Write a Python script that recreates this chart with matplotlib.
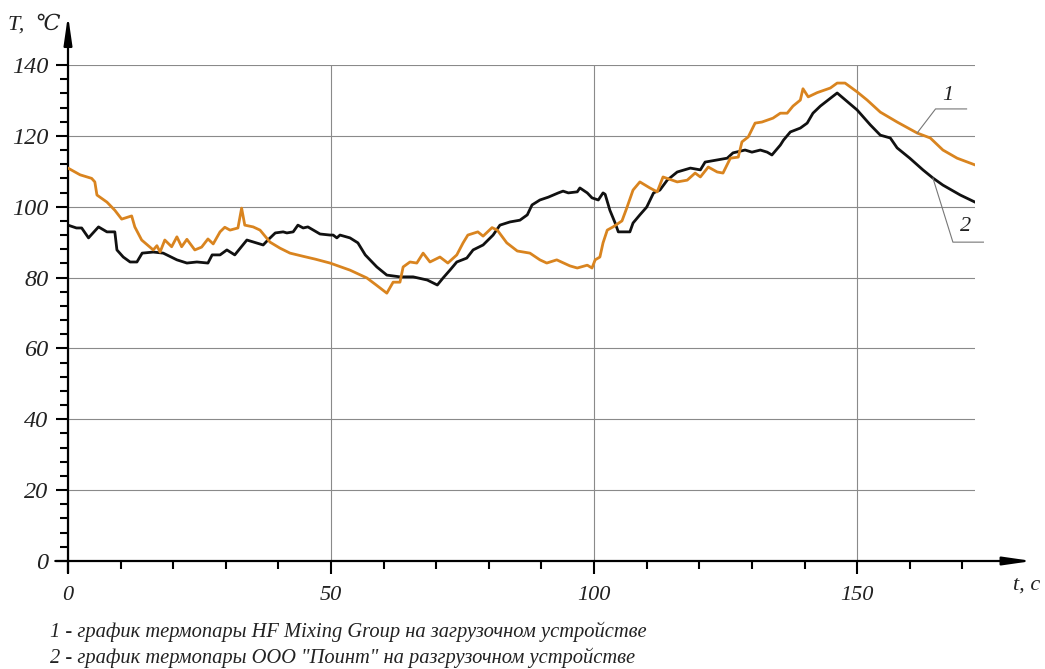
import numpy as np
import matplotlib
matplotlib.use("Agg")
import matplotlib.pyplot as plt
from matplotlib.ticker import MultipleLocator

# series 1 - HF Mixing Group thermocouple (orange)
t1 = [0, 2.3, 4.5, 5.1, 5.5, 7.4, 8.9, 10.2, 12.1, 12.7, 14.0, 16.2, 16.9, 17.5,
      18.4, 19.7, 20.7, 21.6, 22.6, 24.1, 25.4, 26.6, 27.6, 28.9, 29.8, 30.8,
      32.3, 33.0, 33.6, 35.2, 36.5, 38.4, 40.3, 42.2, 44.7, 47.0, 49.8, 53.6,
      56.8, 58.5, 60.6, 61.8, 63.1, 63.7, 65.0, 66.3, 67.5, 68.8, 70.7, 72.2,
      73.9, 75.1, 76.0, 77.9, 78.9, 80.6, 81.6, 83.4, 85.4, 87.8, 89.7, 91.0,
      92.9, 95.4, 96.8, 98.7, 99.6, 100.2, 101.1, 101.7, 102.5, 103.6, 105.3,
      106.2, 107.4, 108.7, 110.6, 112.0, 113.1, 115.8, 117.7, 119.2, 120.2,
      121.7, 123.4, 124.5, 125.9, 127.4, 128.1, 129.3, 130.6, 131.9, 134.0,
      135.4, 136.7, 137.8, 139.2, 139.7, 140.7, 142.4, 144.9, 146.2, 147.7,
      150.0, 151.9, 154.4, 157.6, 161.4, 163.9, 166.3, 169.0, 172.4]
temp1 = [110.9, 109.0, 108.0, 107.0, 103.3, 101.3, 99.0, 96.5, 97.4, 94.3, 90.6,
         87.8, 89.0, 87.2, 90.6, 88.7, 91.5, 88.7, 90.8, 87.8, 88.6, 90.9, 89.5,
         92.9, 94.2, 93.4, 94.0, 99.6, 94.8, 94.3, 93.4, 90.0, 88.3, 86.9, 86.0,
         85.2, 84.1, 82.1, 79.9, 78.0, 75.6, 78.7, 78.7, 83.0, 84.4, 84.1, 86.9,
         84.4, 85.8, 84.1, 86.4, 89.8, 92.0, 92.9, 91.7, 94.1, 93.4, 89.8, 87.5,
         86.9, 85.0, 84.1, 85.0, 83.3, 82.7, 83.5, 82.7, 85.0, 85.8, 89.8, 93.4,
         94.3, 96.0, 99.6, 104.7, 107.0, 105.3, 104.2, 108.4, 107.0, 107.5, 109.5,
         108.4, 111.2, 109.8, 109.5, 113.7, 114.0, 118.3, 119.7, 123.6, 123.9,
         125.0, 126.4, 126.4, 128.4, 130.1, 133.3, 131.0, 132.2, 133.5, 134.9,
         134.9, 132.4, 130.1, 126.7, 123.9, 120.8, 119.4, 116.0, 113.7, 111.8]

# series 2 - OOO "Point" thermocouple (black)
t2 = [0, 1.6, 2.6, 3.9, 5.8, 7.4, 8.9, 9.3, 10.5, 11.8, 13.1, 14.1, 16.2, 18.1,
      20.7, 22.6, 24.5, 26.6, 27.4, 28.9, 30.2, 31.7, 34.0, 37.1, 38.0, 39.4,
      40.9, 41.6, 42.8, 43.7, 44.7, 45.6, 47.9, 49.8, 50.4, 51.1, 51.7, 53.6,
      55.1, 56.5, 58.7, 60.6, 63.1, 65.6, 68.3, 70.2, 71.3, 72.6, 73.9, 75.8,
      77.0, 78.9, 80.8, 82.1, 84.0, 85.9, 87.3, 88.2, 89.7, 91.3, 93.2, 94.1,
      95.1, 96.8, 97.3, 98.7, 99.6, 100.8, 101.7, 102.1, 103.0, 104.0, 104.6,
      106.8, 107.4, 108.7, 110.0, 111.3, 112.5, 113.9, 115.8, 118.3, 120.2,
      121.1, 123.4, 125.3, 126.4, 128.7, 130.0, 131.6, 132.9, 133.8, 135.4,
      136.0, 137.3, 139.2, 140.5, 141.6, 143.0, 146.2, 150.0, 152.5, 154.4,
      156.3, 157.6, 160.0, 162.5, 164.4, 166.3, 169.6, 172.4]
temp2 = [94.8, 94.0, 94.0, 91.2, 94.3, 92.9, 92.9, 87.8, 85.8, 84.4, 84.4, 86.9,
         87.2, 86.9, 85.0, 84.1, 84.4, 84.1, 86.4, 86.4, 87.8, 86.4, 90.6, 89.2,
         90.6, 92.6, 92.9, 92.6, 92.9, 94.8, 94.0, 94.3, 92.3, 92.0, 92.0, 91.2,
         92.0, 91.2, 89.8, 86.4, 83.0, 80.7, 80.2, 80.2, 79.3, 77.9, 79.9, 82.1,
         84.4, 85.5, 87.8, 89.2, 92.0, 94.8, 95.7, 96.2, 97.7, 100.5, 101.9,
         102.7, 103.9, 104.4, 103.9, 104.2, 105.3, 103.9, 102.5, 101.9, 103.9,
         103.5, 99.0, 95.4, 92.9, 92.9, 95.4, 97.7, 99.9, 103.9, 104.7, 107.5,
         109.8, 110.9, 110.4, 112.6, 113.2, 113.7, 115.2, 116.0, 115.4, 116.0,
         115.4, 114.6, 117.4, 118.8, 121.1, 122.2, 123.6, 126.4, 128.4, 132.1,
         127.3, 123.1, 120.2, 119.4, 116.6, 113.7, 110.4, 108.1, 106.1, 103.3,
         101.3]

captions = ['1 - график термопары HF Mixing Group на загрузочном устройстве',
            '2 - график термопары ООО "Поинт" на разгрузочном устройстве']

plt.rcParams['font.family'] = ['Liberation Serif', 'DejaVu Serif']
plt.rcParams['font.style'] = 'italic'
plt.rcParams['text.color'] = '#222222'
plt.rcParams['xtick.labelcolor'] = '#222222'
plt.rcParams['ytick.labelcolor'] = '#222222'
ORANGE = '#d9841f'

fig = plt.figure(figsize=(10.45, 6.69), dpi=100)
ax = fig.add_axes([68 / 1045, 1 - 561 / 669, 907 / 1045, 496 / 669])

ax.plot(t2, temp2, color='#111111', lw=2.0, zorder=3)
ax.plot(t1, temp1, color=ORANGE, lw=2.0, zorder=4)

ax.set_xlim(0, 172.4)
ax.set_ylim(0, 140)
ax.xaxis.set_major_locator(MultipleLocator(50))
ax.xaxis.set_minor_locator(MultipleLocator(10))
ax.yaxis.set_major_locator(MultipleLocator(20))
ax.yaxis.set_minor_locator(MultipleLocator(4))
ax.tick_params(which='major', direction='out', length=9, width=1.5)
ax.tick_params(which='minor', direction='out', length=5.5, width=1.5)
ax.tick_params(axis='x', pad=9, labelsize=16)
ax.tick_params(axis='y', pad=5, labelsize=17.5)

ax.grid(True, which='major', color='#8a8a8a', lw=0.8)
for s in ax.spines.values():
    s.set_visible(False)

# axes with arrows
arrow = dict(arrowstyle='-|>,head_length=0.9,head_width=0.13', lw=1.6,
             color='black', shrinkA=0, shrinkB=0, mutation_scale=19)
ax.annotate('', xy=(1.063, 0), xytext=(-0.014, 0), xycoords='axes fraction',
            arrowprops=arrow, annotation_clip=False)
ax.annotate('', xy=(0, 1.10), xytext=(0, -0.024), xycoords='axes fraction',
            arrowprops=arrow, annotation_clip=False)

fig.text(8 / 1045, 1 - 25 / 669, 'T,  ℃', fontsize=16, va='center', ha='left')
fig.text(1013 / 1045, 1 - 585 / 669, 't, c', fontsize=16, va='center', ha='left')

# callouts 1 and 2
leader = dict(color='#777777', lw=0.8, clip_on=False, zorder=5)
a1 = 161.4
y1 = np.interp(a1, t1, temp1)
ax.plot([a1, 164.9, 170.8], [y1, 127.6, 127.6], **leader)
ax.text(167.2, 131.5, '1', fontsize=16, ha='center', va='center')
a2 = 164.4
y2 = np.interp(a2, t2, temp2)
ax.plot([a2, 168.2, 174.0], [y2, 90.0, 90.0], **leader)
ax.text(170.6, 94.5, '2', fontsize=16, ha='center', va='center')

for i, cap in enumerate(captions):
    fig.text(50 / 1045, 1 - (632 + 26 * i) / 669, cap, fontsize=14.8,
             va='center', ha='left')

fig.savefig('out.png', dpi=100)
